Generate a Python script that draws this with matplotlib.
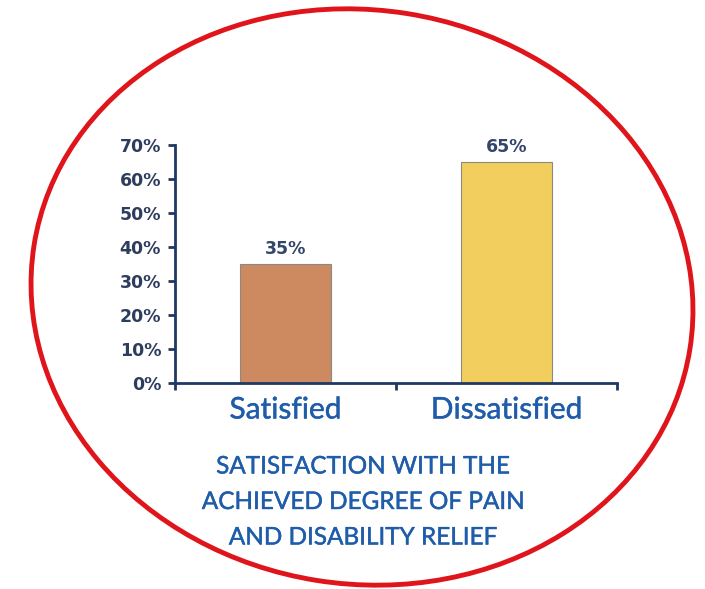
import numpy as np
import matplotlib.pyplot as plt
import matplotlib.patheffects as pe
from matplotlib.patches import Ellipse

# --- Data ---
categories = ["Satisfied", "Dissatisfied"]
shares = [0.35, 0.65]
bar_colors = ["#CD8A61", "#F1CE5E"]
value_labels = ["35%", "65%"]
y_ticks = [0.0, 0.1, 0.2, 0.3, 0.4, 0.5, 0.6, 0.7]
y_tick_labels = ["0%", "10%", "20%", "30%", "40%", "50%", "60%", "70%"]
title_lines = ["SATISFACTION WITH THE", "ACHIEVED DEGREE OF PAIN", "AND DISABILITY RELIEF"]

NAVY = "#1F3864"
BLUE = "#1F5DAA"
W, H = 705, 589
# slightly heavier strokes, like the blurred original
thicken = [pe.withStroke(linewidth=0.3, foreground=BLUE)]

fig = plt.figure(figsize=(W / 100, H / 100), dpi=100)

# red hand-drawn style frame
bg = fig.add_axes([0, 0, 1, 1])
bg.set_xlim(0, W)
bg.set_ylim(H, 0)
bg.axis("off")
bg.add_patch(Ellipse((362, 297), 664, 574, angle=9, fill=False,
                     edgecolor="#E0141B", lw=3.5))

# bar chart
ax = fig.add_axes([175 / W, 1 - 383 / H, (617 - 175) / W, (383 - 145) / H])
x = np.arange(len(categories))
ax.bar(x, shares, width=0.41, color=bar_colors, edgecolor="#8A8A80", linewidth=0.8, zorder=2)
for xi, v, lab in zip(x, shares, value_labels):
    ax.text(xi, v + 0.018, lab, ha="center", va="bottom", fontsize=12.5,
            fontweight="bold", color="#34456A", family="DejaVu Sans")

ax.set_xlim(-0.5, 1.5)
ax.set_ylim(0, 0.7)
ax.set_yticks(y_ticks)
ax.set_yticklabels(y_tick_labels, fontsize=12.5, fontweight="bold", color="#2E3D5E", family="DejaVu Sans")
ax.set_xticks(x)
ax.set_xticklabels(categories, fontsize=21.5, color=BLUE, family="Lato")
for t in ax.get_xticklabels():
    t.set_path_effects(thicken)
ax.set_xticks([-0.5, 0.5, 1.5], minor=True)
ax.tick_params(axis="x", which="major", length=0, pad=9)
ax.tick_params(axis="x", which="minor", length=5, width=2, color=NAVY, direction="out")
ax.tick_params(axis="y", length=5, width=2, color=NAVY, direction="out", pad=5)
for side in ["top", "right"]:
    ax.spines[side].set_visible(False)
for side in ["left", "bottom"]:
    ax.spines[side].set_color(NAVY)
    ax.spines[side].set_linewidth(2)

for i, line in enumerate(title_lines):
    fig.text(363 / W, 1 - (467 + 35.5 * i) / H, line, ha="center", va="center",
             fontsize=17.5, color=BLUE, family="Lato", path_effects=thicken)

plt.savefig("out.png", dpi=100)
